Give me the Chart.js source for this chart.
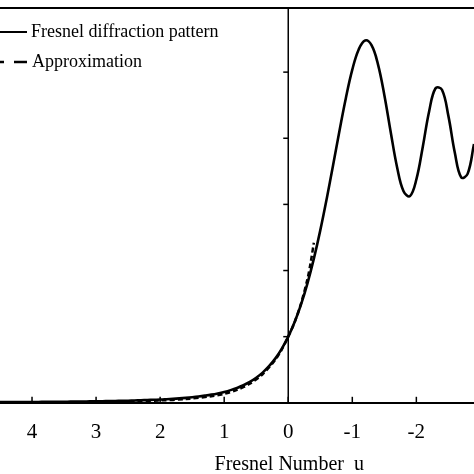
<!DOCTYPE html>
<html lang="en">
<head>
    <meta charset="UTF-8">
    <title>Fresnel diffraction pattern</title>
    <script src="https://cdn.jsdelivr.net/npm/chart.js"></script>
    <style>
        body {
            margin: 0;
            background: #fff;
        }
        #chart-container {
            width: 474px;
            height: 474px;
        }
    </style>
</head>
<body>
    <div id="chart-container">
        <canvas id="fresnelChart"></canvas>
    </div>

    <script>
        // Fresnel number u (axis runs from positive on the left to negative on the right)
        const uValues = [
            4.5, 4.4, 4.3, 4.2, 4.1, 4.0, 3.9, 3.8, 3.7, 3.6,
            3.5, 3.4, 3.3, 3.2, 3.1, 3.0, 2.9, 2.8, 2.7, 2.6,
            2.5, 2.4, 2.3, 2.2, 2.1, 2.0, 1.9, 1.8, 1.7, 1.6,
            1.5, 1.4, 1.3, 1.2, 1.1, 1.0, 0.9, 0.8, 0.7, 0.6,
            0.5, 0.4, 0.3, 0.2, 0.1, 0.0, -0.1, -0.2, -0.3, -0.4,
            -0.5, -0.6, -0.7, -0.8, -0.9, -1.0, -1.1, -1.2, -1.3, -1.4,
            -1.5, -1.6, -1.7, -1.8, -1.9, -2.0, -2.1, -2.2, -2.3, -2.4,
            -2.5, -2.6, -2.7, -2.8, -2.9
        ];
        // relative intensity
        const fresnelIntensity = [
            0.0025, 0.0026, 0.0027, 0.0029, 0.0030, 0.0032, 0.0033, 0.0035, 0.0037, 0.0039,
            0.0041, 0.0044, 0.0047, 0.0049, 0.0053, 0.0056, 0.0060, 0.0065, 0.0069, 0.0075,
            0.0080, 0.0088, 0.0096, 0.0104, 0.0114, 0.0123, 0.0136, 0.0150, 0.0167, 0.0187,
            0.0210, 0.0237, 0.0270, 0.0308, 0.0355, 0.0411, 0.0479, 0.0562, 0.0665, 0.0791,
            0.0948, 0.1141, 0.1382, 0.1679, 0.2047, 0.2500, 0.3053, 0.3720, 0.4517, 0.5450,
            0.6518, 0.7708, 0.8983, 1.0284, 1.1525, 1.2592, 1.3358, 1.3697, 1.3518, 1.2804,
            1.1638, 1.0230, 0.8898, 0.7996, 0.7814, 0.8440, 0.9671, 1.1023, 1.1891, 1.1833,
            1.0846, 0.9463, 0.8523, 0.8654, 0.9785
        ];
        // dashed approximation, only near the edge
        const approxU = [2.6, 2.4, 2.0, 1.6, 1.2, 1.0, 0.8, 0.6, 0.4, 0.2, 0.1, 0.0, -0.1, -0.2, -0.3, -0.35, -0.4];
        const approxIntensity = [0.0050, 0.0060, 0.0090, 0.0140, 0.0250, 0.0340, 0.0490, 0.0720, 0.1080, 0.1630, 0.2020, 0.2500, 0.3050, 0.3760, 0.4680, 0.5300, 0.6050];

        const xTicks = [4, 3, 2, 1, 0, -1, -2];
        const yTicks = [0.25, 0.5, 0.75, 1.0, 1.25];
        const seriesNames = ['Fresnel diffraction pattern', 'Approximation'];
        const axisTitle = 'Fresnel Number  u';

        const serif = '"Liberation Serif", "Times New Roman", serif';

        // axis at u = 0, frame line, legend and axis title
        const decorations = {
            id: 'decorations',
            beforeDatasetsDraw(chart) {
                const { ctx, chartArea: a, scales: { x, y } } = chart;
                const seg = (x1, y1, x2, y2) => {
                    ctx.beginPath();
                    ctx.moveTo(x1, y1);
                    ctx.lineTo(x2, y2);
                    ctx.stroke();
                };
                ctx.save();
                ctx.strokeStyle = '#000';
                ctx.lineWidth = 2;
                seg(a.left, a.top, a.right, a.top);

                const x0 = x.getPixelForValue(0);
                ctx.lineWidth = 1.5;
                seg(x0, a.top, x0, a.bottom);
                yTicks.forEach(v => {
                    const py = y.getPixelForValue(v);
                    seg(x0 - 5, py, x0, py);
                });
                xTicks.forEach(v => {
                    const px = x.getPixelForValue(v);
                    seg(px, a.bottom, px, a.bottom - 6);
                });

                // legend
                ctx.lineWidth = 2;
                seg(0, 32, 27, 32);
                ctx.lineWidth = 2.5;
                seg(0, 62, 4, 62);
                seg(14, 62, 27, 62);
                ctx.fillStyle = '#000';
                ctx.font = '18px ' + serif;
                ctx.textAlign = 'left';
                ctx.textBaseline = 'middle';
                ctx.fillText(seriesNames[0], 31, 32);
                ctx.fillText(seriesNames[1], 32, 62);

                // axis title, centred under u = 0
                ctx.font = '20px ' + serif;
                ctx.textAlign = 'center';
                ctx.fillText(axisTitle, x0 + 1, 465);
                ctx.restore();
            }
        };

        const ctx = document.getElementById('fresnelChart').getContext('2d');
        new Chart(ctx, {
            type: 'line',
            data: {
                datasets: [
                    {
                        label: seriesNames[1],
                        data: approxU.map((u, i) => ({ x: u, y: approxIntensity[i] })),
                        borderColor: '#000',
                        borderWidth: 2.5,
                        borderDash: [5, 3],
                        pointRadius: 0,
                        tension: 0.3,
                        fill: false
                    },
                    {
                        label: seriesNames[0],
                        data: uValues.map((u, i) => ({ x: u, y: fresnelIntensity[i] })),
                        borderColor: '#000',
                        borderWidth: 2.6,
                        pointRadius: 0,
                        tension: 0.4,
                        fill: false
                    }
                ]
            },
            options: {
                responsive: true,
                maintainAspectRatio: false,
                animation: false,
                layout: {
                    padding: { top: 8, left: 0, right: 0, bottom: 12 }
                },
                plugins: {
                    legend: { display: false },
                    tooltip: { enabled: false }
                },
                scales: {
                    x: {
                        type: 'linear',
                        reverse: true,
                        min: -2.9,
                        max: 4.5,
                        afterBuildTicks: scale => {
                            scale.ticks = xTicks.map(v => ({ value: v }));
                        },
                        grid: { display: false, drawTicks: false },
                        border: { display: true, color: '#000', width: 2 },
                        ticks: {
                            color: '#000',
                            padding: 17,
                            maxRotation: 0,
                            font: { family: serif, size: 21 }
                        }
                    },
                    y: {
                        display: false,
                        min: 0,
                        max: 1.4924
                    }
                }
            },
            plugins: [decorations]
        });
    </script>
</body>
</html>
